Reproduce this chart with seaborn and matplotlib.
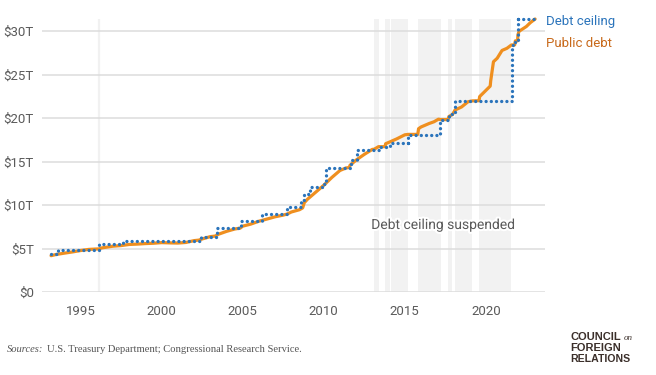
import numpy as np
import pandas as pd
import matplotlib.pyplot as plt
import matplotlib.patheffects as pe
import seaborn as sns

# Debt ceiling (statutory limit, $ trillions) - step series
ceiling_year = [1993.18, 1993.6, 1996.15, 1997.6, 2002.45, 2003.4, 2004.88, 2006.21,
                2007.74, 2008.57, 2008.76, 2009.13, 2009.99, 2010.12, 2011.59, 2011.72,
                2012.08, 2013.38, 2014.11, 2015.17, 2017.19, 2017.72, 2018.12, 2021.6,
                2021.79, 2021.96, 2023.0]
ceiling_tn = [4.37, 4.9, 5.5, 5.95, 6.4, 7.384, 8.184, 8.965,
              9.815, 10.615, 11.315, 12.104, 12.394, 14.294, 14.694, 15.194,
              16.394, 16.699, 17.212, 18.113, 19.809, 20.456, 22.03, 28.401,
              28.881, 31.381, 31.381]

# Total public debt outstanding ($ trillions)
debt_year = [1993.18, 1993.5, 1994.0, 1994.5, 1995.0, 1995.5, 1995.9, 1996.15, 1996.3,
             1996.5, 1997.0, 1997.5, 1998.0, 1998.5, 1999.0, 1999.5, 2000.0, 2000.5,
             2001.0, 2001.5, 2002.0, 2002.3, 2002.5, 2003.0, 2003.3, 2003.5, 2004.0,
             2004.5, 2004.85, 2005.0, 2005.5, 2006.0, 2006.2, 2006.5, 2007.0, 2007.5,
             2007.75, 2008.0, 2008.5, 2008.7, 2008.8, 2009.0, 2009.5, 2010.0, 2010.5,
             2011.0, 2011.37, 2011.58, 2011.62, 2012.0, 2012.5, 2013.0, 2013.1, 2013.38,
             2013.78, 2013.82, 2014.1, 2014.5, 2015.0, 2015.21, 2015.8, 2015.85, 2016.0,
             2016.5, 2016.8, 2017.08, 2017.21, 2017.67, 2017.72, 2017.95, 2018.1, 2018.5,
             2018.9, 2019.17, 2019.58, 2019.62, 2020.0, 2020.27, 2020.3, 2020.47, 2020.7,
             2021.0, 2021.3, 2021.58, 2021.78, 2021.82, 2021.96, 2021.98, 2022.05, 2022.5,
             2022.75, 2023.04]
debt_tn = [4.21, 4.35, 4.5, 4.64, 4.8, 4.93, 4.97, 4.99, 5.1,
           5.16, 5.3, 5.37, 5.5, 5.54, 5.6, 5.64, 5.71, 5.68,
           5.66, 5.73, 5.94, 6.0, 6.13, 6.4, 6.46, 6.67, 7.0,
           7.27, 7.38, 7.6, 7.84, 8.17, 8.27, 8.42, 8.68, 8.87,
           9.0, 9.23, 9.49, 9.7, 10.3, 10.7, 11.5, 12.3, 13.2,
           14.0, 14.29, 14.34, 14.6, 15.2, 15.85, 16.43, 16.43, 16.74,
           16.74, 17.08, 17.3, 17.63, 18.1, 18.15, 18.15, 18.8, 19.0,
           19.4, 19.6, 19.9, 19.85, 19.85, 20.2, 20.45, 20.95, 21.3,
           21.9, 22.0, 22.02, 22.5, 23.2, 23.7, 24.3, 26.5, 26.9,
           27.8, 28.04, 28.43, 28.43, 28.9, 28.9, 29.6, 30.0, 30.55,
           31.0, 31.41]

# Periods when the debt ceiling was suspended
susp_start = [2013.09, 2013.79, 2014.12, 2015.84, 2017.69, 2018.11, 2019.59]
susp_end = [2013.38, 2014.10, 2015.21, 2017.21, 2017.94, 2019.17, 2021.58]

year_ticks = [1995, 2000, 2005, 2010, 2015, 2020]
y_ticks = [0, 5, 10, 15, 20, 25, 30]
y_labels = [r'\$0', r'\$5T', r'\$10T', r'\$15T', r'\$20T', r'\$25T', r'\$30T']

ceiling = pd.DataFrame({'year': ceiling_year, 'value': ceiling_tn})
debt = pd.DataFrame({'year': debt_year, 'value': debt_tn})

sns.set_theme(style='white')
plt.rcParams['font.family'] = ['Roboto', 'DejaVu Sans']

blue = '#2b74bb'
orange = '#ef8f1f'
gray_txt = '#5a5a5a'

fig = plt.figure(figsize=(6.56, 3.75), dpi=100)
ax = fig.add_axes([0.0645, 0.2205, 0.7663, 0.7288])

for s, e in zip(susp_start, susp_end):
    ax.axvspan(s, e, color='#f2f2f2', lw=0, zorder=0)
ax.axvline(1996.14, color='#f1f1f1', lw=1.6, zorder=0.4)

sns.lineplot(data=debt, x='year', y='value', ax=ax, color=orange, lw=2.3,
             estimator=None, sort=False, zorder=3, clip_on=False)
sns.lineplot(data=ceiling, x='year', y='value', ax=ax, color=blue, lw=2.4,
             estimator=None, sort=False, drawstyle='steps-post',
             linestyle=(0, (0.01, 1.55)), dash_capstyle='round', zorder=4,
             clip_on=False)

ax.set_xlim(1992.64, 2023.65)
ax.set_ylim(0, 31.41)
ax.set_xticks(year_ticks)
ax.set_yticks(y_ticks)
ax.set_yticklabels(y_labels)
ax.set_xlabel('')
ax.set_ylabel('')
ax.set_axisbelow(True)
ax.yaxis.grid(True, color='#dcdcdc', lw=1.1)
ax.xaxis.grid(False)
for sp in ax.spines.values():
    sp.set_visible(False)
ax.tick_params(axis='both', length=0, labelsize=9.5, labelcolor=gray_txt)
ax.tick_params(axis='x', pad=9)
ax.tick_params(axis='y', pad=6)

ax.text(2017.37, 7.74, 'Debt ceiling suspended', ha='center', va='center',
        fontsize=10, color=gray_txt, zorder=5,
        path_effects=[pe.withStroke(linewidth=3, foreground='white')])
ax.text(2023.72, 31.15, 'Debt ceiling', ha='left', va='center', fontsize=9.5,
        color=blue, clip_on=False)
ax.text(2023.72, 28.62, 'Public debt', ha='left', va='center', fontsize=9.5,
        color='#c8691a', clip_on=False)

# source line
src1 = fig.text(0.011, 0.067, 'Sources:', fontsize=7.6, style='italic',
                family='Liberation Serif', color='#555555', va='center')
fig.canvas.draw()
bb = src1.get_window_extent()
fig.text((bb.x1 + 3) / fig.bbox.width, 0.067,
         'U.S. Treasury Department; Congressional Research Service.',
         fontsize=7.6, family='Liberation Serif', color='#555555', va='center')

# CFR wordmark
logo = '#3b2f2a'
fig.text(0.869, 0.102, 'COUNCIL', fontsize=8.0, weight='bold', color=logo,
         family='Liberation Sans', va='center')
fig.text(0.951, 0.098, 'on', fontsize=6.5, style='italic', color=logo,
         family='Liberation Serif', va='center')
fig.text(0.869, 0.072, 'FOREIGN', fontsize=8.0, weight='bold', color=logo,
         family='Liberation Sans', va='center')
fig.text(0.869, 0.044, 'RELATIONS', fontsize=7.6, weight='bold', color=logo,
         family='Liberation Sans', va='center')

fig.savefig('out.png', dpi=100)
